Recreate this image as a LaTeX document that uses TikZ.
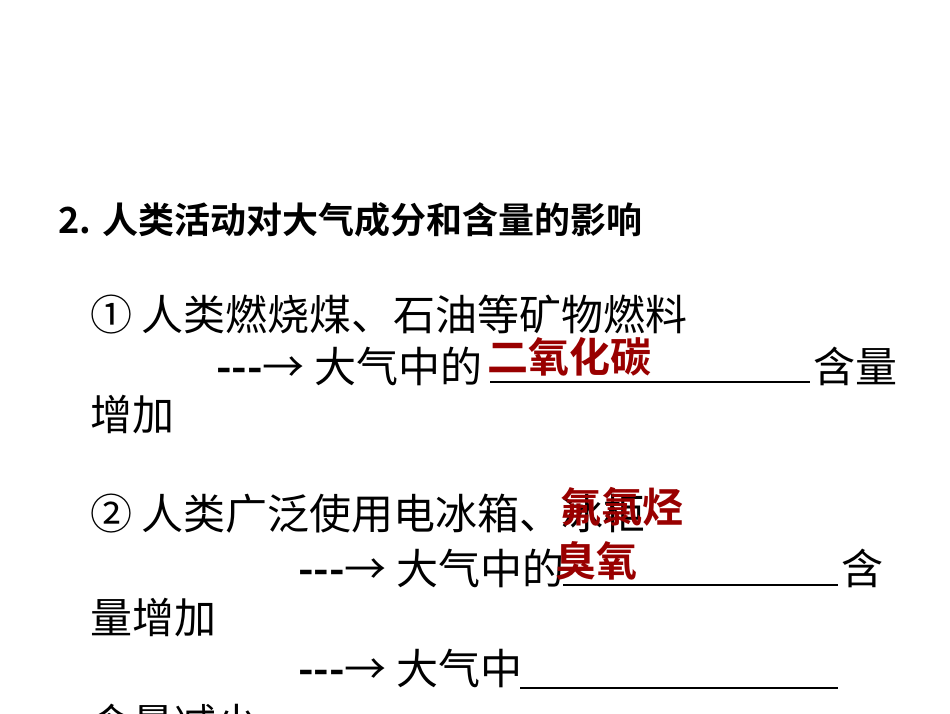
\documentclass[tikz,border=0pt]{standalone}
\usepackage{fontspec}
\setmainfont{Liberation Serif}
\newfontfamily\cjk{Noto Sans CJK SC}
\newfontfamily\cjkb{Noto Sans CJK SC Bold}
\begin{document}
\begin{tikzpicture}[x=1pt,y=-1pt,
  txt/.style={anchor=west,inner sep=0pt,font=\fontsize{42}{42}\cjk},
  ttl/.style={anchor=west,inner sep=0pt,font=\fontsize{36}{36}\cjkb},
  ans/.style={anchor=west,inner sep=0pt,text=red!60!black,font=\fontsize{41}{41}\cjkb},
  blank/.style={line width=1.6pt}]
\useasboundingbox[fill=white] (0,0) rectangle (950,713);
\node[ttl] (t) at (58,220) {2. 人类活动对大气成分和含量的影响};
\node[txt] (l1) at (90,315) {① 人类燃烧煤、石油等矿物燃料};
\node[txt] (a1) at (216,366) {{\cjkb---}→ 大气中的};
\coordinate (u1a) at (490,382); \coordinate (u1b) at (810,382);
\draw[blank] (u1a) -- (u1b);
\node[txt] (h1) at (813,366) {含量};
\node[ans] (r1) at (487,357) {二氧化碳};
\node[txt] (z1) at (90,415) {增加};
\node[txt] (l2) at (90,514) {② 人类广泛使用电冰箱、冰柜};
\node[ans] (r2) at (560,507) {氟氯烃};
\node[txt] (a2) at (298,568) {{\cjkb---}→ 大气中的};
\coordinate (u2a) at (563,585); \coordinate (u2b) at (838,585);
\draw[blank] (u2a) -- (u2b);
\node[txt] (h2) at (841,568) {含};
\node[ans] (r3) at (555,561) {臭氧};
\node[txt] (z2) at (90,618) {量增加};
\node[txt] (a3) at (298,668) {{\cjkb---}→ 大气中};
\coordinate (u3a) at (520,688); \coordinate (u3b) at (838,688);
\draw[blank] (u3a) -- (u3b);
\node[txt] (z3) at (90,724) {含量减少};
\end{tikzpicture}
\end{document}
